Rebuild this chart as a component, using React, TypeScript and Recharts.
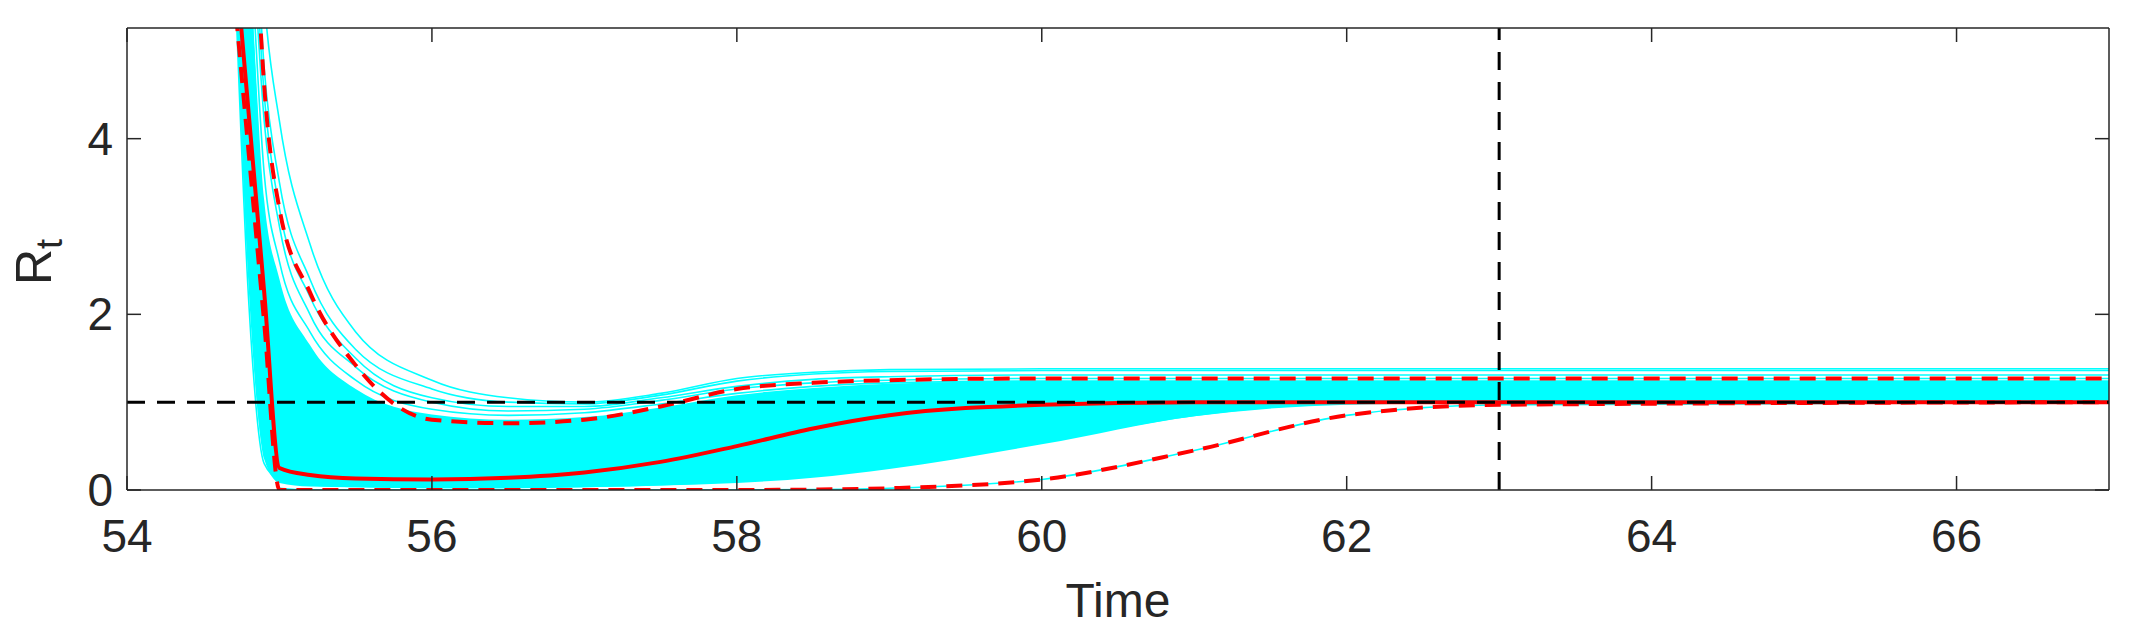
import React from 'react'
import { ComposedChart, Line, Area, XAxis, YAxis, ReferenceLine } from 'recharts'

// time grid shared by all series
const times = [54.7, 54.8, 54.9, 55.0, 55.2, 55.5, 56, 56.5, 57, 57.5, 58, 58.5, 59, 60, 61, 62, 63, 67]

// individual cyan sample paths
const samples: number[][] = [
  [12, 9, 5.6, 4.2, 2.8, 1.8, 1.25, 1.05, 1.0, 1.1, 1.27, 1.34, 1.37, 1.38, 1.38, 1.38, 1.38, 1.38],
  [11, 8, 4.8, 3.5, 2.4, 1.6, 1.15, 1.0, 0.98, 1.08, 1.24, 1.32, 1.35, 1.36, 1.36, 1.36, 1.36, 1.36],
  [11, 7.5, 4.5, 3.2, 2.2, 1.5, 1.05, 0.95, 0.95, 1.05, 1.18, 1.26, 1.29, 1.31, 1.31, 1.31, 1.31, 1.31],
  [10, 7, 4.2, 3.0, 2.0, 1.4, 1.0, 0.9, 0.92, 1.02, 1.15, 1.22, 1.25, 1.27, 1.27, 1.27, 1.27, 1.27],
  [9, 6.5, 3.6, 2.6, 1.8, 1.25, 0.92, 0.85, 0.88, 0.98, 1.1, 1.18, 1.22, 1.24, 1.24, 1.24, 1.24, 1.24],
  [9, 6, 3.0, 2.2, 1.5, 1.05, 0.8, 0.75, 0.78, 0.88, 1.0, 1.1, 1.16, 1.2, 1.2, 1.2, 1.2, 1.2],
  [8.5, 5.8, 2.8, 2.0, 1.35, 0.95, 0.72, 0.68, 0.72, 0.82, 0.95, 1.06, 1.13, 1.19, 1.19, 1.19, 1.19, 1.19],
  [8, 5.5, 2.6, 1.8, 1.2, 0.85, 0.65, 0.62, 0.66, 0.76, 0.9, 1.02, 1.1, 1.17, 1.18, 1.18, 1.18, 1.18],
  [8, 5, 2.2, 1.5, 1.0, 0.7, 0.55, 0.52, 0.55, 0.65, 0.8, 0.95, 1.05, 1.14, 1.16, 1.16, 1.16, 1.16],
  [7.5, 4.6, 1.8, 1.2, 0.8, 0.58, 0.45, 0.42, 0.45, 0.55, 0.7, 0.86, 0.98, 1.1, 1.14, 1.14, 1.14, 1.14],
  [7.5, 4.2, 1.5, 1.0, 0.65, 0.48, 0.38, 0.36, 0.38, 0.46, 0.6, 0.76, 0.9, 1.06, 1.12, 1.12, 1.12, 1.12],
  [7, 3.8, 1.2, 0.8, 0.5, 0.38, 0.3, 0.28, 0.3, 0.38, 0.5, 0.66, 0.82, 1.02, 1.1, 1.1, 1.1, 1.1],
  [7, 3.4, 1.0, 0.6, 0.38, 0.28, 0.22, 0.22, 0.25, 0.32, 0.42, 0.56, 0.72, 0.96, 1.06, 1.08, 1.08, 1.08],
  [6.8, 3.0, 0.8, 0.45, 0.28, 0.2, 0.16, 0.16, 0.18, 0.24, 0.34, 0.46, 0.62, 0.9, 1.03, 1.06, 1.06, 1.06],
  [6.5, 2.7, 0.6, 0.32, 0.2, 0.14, 0.1, 0.1, 0.12, 0.17, 0.25, 0.36, 0.5, 0.8, 0.98, 1.03, 1.04, 1.04],
  [6.5, 2.4, 0.45, 0.2, 0.12, 0.08, 0.06, 0.06, 0.08, 0.11, 0.17, 0.26, 0.38, 0.68, 0.92, 1.0, 1.02, 1.02],
  [6.2, 2.1, 0.3, 0.12, 0.06, 0.04, 0.03, 0.03, 0.04, 0.06, 0.1, 0.16, 0.26, 0.55, 0.85, 0.98, 1.0, 1.0],
  [5.8, 3.9, 1.95, 0.02, 0, 0, 0, 0, 0, 0, 0, 0.005, 0.02, 0.12, 0.45, 0.85, 0.97, 1.0],
]

// dense core of the ensemble
const coreHigh = [9, 6.2, 3.3, 2.4, 1.65, 1.15, 0.86, 0.8, 0.83, 0.94, 1.08, 1.16, 1.21, 1.24, 1.24, 1.24, 1.24, 1.24]
const coreLow = [6.2, 2.4, 0.35, 0.08, 0.04, 0.03, 0.02, 0.02, 0.03, 0.05, 0.08, 0.14, 0.24, 0.52, 0.84, 0.98, 1.0, 1.0]

// red summary lines
const median = [6.25, 4.25, 2.25, 0.25, 0.17, 0.13, 0.12, 0.14, 0.2, 0.32, 0.5, 0.7, 0.85, 0.97, 1.0, 1.0, 1.0, 1.0]
const upperBound = [12, 8, 4.6, 3.2, 2.25, 1.42, 0.8, 0.76, 0.8, 0.95, 1.15, 1.22, 1.25, 1.27, 1.27, 1.27, 1.27, 1.27]
const lowerBound = [5.7, 3.8, 1.9, 0, 0, 0, 0, 0, 0, 0, 0, 0.005, 0.02, 0.12, 0.45, 0.85, 0.97, 1.0]

const xTicks = [54, 56, 58, 60, 62, 64, 66]
const yTicks = [0, 2, 4]
const Y_MAX = 5.26

const rows = times.map((t, i) => {
  const row: Record<string, any> = { t, core: [coreLow[i], coreHigh[i]], median: median[i], upper: upperBound[i], lower: lowerBound[i] }
  samples.forEach((s, k) => { row['s' + k] = s[i] })
  return row
})

const FONT = '"Liberation Sans", Arial, sans-serif'
const AX = '#262626'
const PLOT_BOTTOM = 490
const PLOT_LEFT = 127

// custom ticks draw MATLAB-style inward tick marks; positions come from the axis scale (x) and fixed plot edge (y)
const XTick = ({ x, payload }: any) => (
  <g>
    <line x1={x} x2={x} y1={PLOT_BOTTOM} y2={PLOT_BOTTOM - 14} stroke={AX} strokeWidth={1.5} />
    <text x={x} y={PLOT_BOTTOM + 62} textAnchor="middle" fontSize={46} fontFamily={FONT} fill={AX}>{payload.value}</text>
  </g>
)
const XTopTick = ({ x }: any) => <line x1={x} x2={x} y1={28} y2={42} stroke={AX} strokeWidth={1.5} />
const YTick = ({ y, payload }: any) => (
  <g>
    <line x1={PLOT_LEFT} x2={PLOT_LEFT + 14} y1={y} y2={y} stroke={AX} strokeWidth={1.5} />
    <text x={PLOT_LEFT - 14} y={y + 16} textAnchor="end" fontSize={46} fontFamily={FONT} fill={AX}>{payload.value}</text>
  </g>
)
const YRightTick = ({ y }: any) => <line x1={2109} x2={2095} y1={y} y2={y} stroke={AX} strokeWidth={1.5} />

export default function App() {
  return (
    <div style={{ position: 'absolute', left: 0, top: 0, width: 2131, height: 636, background: '#fff' }}>
      <ComposedChart width={2131} height={636} data={rows} margin={{ top: 27, right: 21, bottom: 86, left: 67 }}>
        <XAxis xAxisId="b" dataKey="t" type="number" domain={[54, 67]} ticks={xTicks} height={60} tickLine={false}
          axisLine={false} tick={<XTick />} allowDataOverflow interval={0} />
        <XAxis xAxisId="top" orientation="top" dataKey="t" type="number" domain={[54, 67]} ticks={xTicks} height={1}
          tickLine={false} axisLine={false} tick={<XTopTick />} interval={0} />
        <YAxis yAxisId="l" type="number" domain={[0, Y_MAX]} ticks={yTicks} width={60} tickLine={false}
          axisLine={false} tick={<YTick />} allowDataOverflow interval={0} />
        <YAxis yAxisId="r" orientation="right" type="number" domain={[0, Y_MAX]} ticks={yTicks} width={1} tickLine={false}
          axisLine={false} tick={<YRightTick />} allowDataOverflow interval={0} />
        <Area xAxisId="b" yAxisId="l" dataKey="core" type="monotone" stroke="none" fill="#00ffff" fillOpacity={1} isAnimationActive={false} />
        {samples.map((_, k) => (
          <Line key={k} xAxisId="b" yAxisId="l" dataKey={'s' + k} type="monotone" stroke="#00ffff" strokeWidth={1.6}
            dot={false} isAnimationActive={false} />
        ))}
        <Line xAxisId="b" yAxisId="l" dataKey="median" type="monotone" stroke="#ff0000" strokeWidth={4} dot={false} isAnimationActive={false} />
        <Line xAxisId="b" yAxisId="l" dataKey="upper" type="monotone" stroke="#ff0000" strokeWidth={4} strokeDasharray="16 10" dot={false} isAnimationActive={false} />
        <Line xAxisId="b" yAxisId="l" dataKey="lower" type="monotone" stroke="#ff0000" strokeWidth={4} strokeDasharray="16 10" dot={false} isAnimationActive={false} />
        <ReferenceLine xAxisId="b" yAxisId="l" y={1} stroke="#000" strokeWidth={3} strokeDasharray="18 12" />
        <ReferenceLine xAxisId="b" yAxisId="l" x={63} stroke="#000" strokeWidth={3} strokeDasharray="18 12" />
        {/* axes box */}
        <ReferenceLine xAxisId="b" yAxisId="l" y={0} stroke={AX} strokeWidth={1.5} />
        <ReferenceLine xAxisId="b" yAxisId="l" y={Y_MAX} stroke={AX} strokeWidth={1.5} />
        <ReferenceLine xAxisId="b" yAxisId="l" x={54} stroke={AX} strokeWidth={1.5} />
        <ReferenceLine xAxisId="b" yAxisId="l" x={67} stroke={AX} strokeWidth={1.5} />
      </ComposedChart>
      <div style={{ position: 'absolute', left: 1118, top: 600, transform: 'translate(-50%,-50%)', fontFamily: FONT, fontSize: 48, color: AX }}>Time</div>
      <div style={{ position: 'absolute', left: 38, top: 262, transform: 'translate(-50%,-50%) rotate(-90deg)', fontFamily: FONT, fontSize: 50, color: AX, whiteSpace: 'nowrap' }}>
        R<sub style={{ fontSize: 36 }}>t</sub>
      </div>
    </div>
  )
}
